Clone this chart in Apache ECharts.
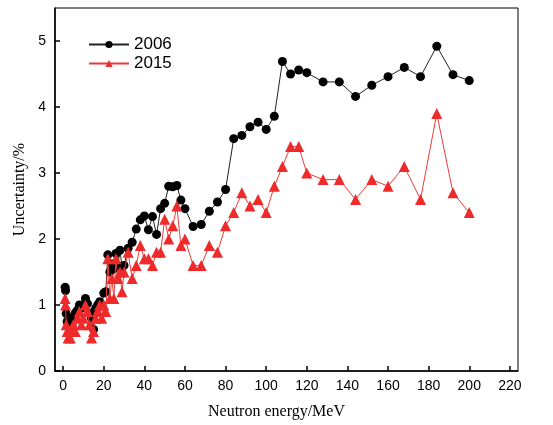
<!DOCTYPE html>
<html>
<head>
<meta charset="utf-8">
<script src="https://cdn.jsdelivr.net/npm/echarts@6/dist/echarts.min.js"></script>
<style>html,body{margin:0;padding:0;background:#fff}#c{width:553px;height:425px}</style>
</head>
<body>
<div id="c"></div>
<script>
const energies = [1,1.2,1.5,2,2.5,3,3.5,4,5,6,7,8,9,10,11,12,13,14,15,16,17,18,19,20,21,22,23,24,25,26,27,28,29,30,
  32,34,36,38,40,42,44,46,48,50,52,54,56,58,60,
  64,68,72,76,80,84,88,92,96,100,104,108,112,116,120,
  128,136,144,152,160,168,176,184,192,200];
const unc2006 = [1.27,1.22,0.87,0.75,0.70,0.68,0.75,0.80,0.78,0.88,0.92,1.00,0.95,1.00,1.10,1.02,0.88,0.80,0.63,0.95,1.00,1.05,1.00,1.18,1.20,1.76,1.50,1.62,1.55,1.78,1.60,1.83,1.58,1.60,
  1.86,1.95,2.15,2.29,2.35,2.14,2.34,2.07,2.46,2.54,2.80,2.79,2.81,2.59,2.46,
  2.19,2.22,2.42,2.56,2.75,3.52,3.57,3.70,3.77,3.66,3.86,4.69,4.50,4.56,4.52,
  4.38,4.38,4.16,4.33,4.46,4.60,4.46,4.92,4.49,4.40];
const unc2015 = [1.10,1.00,0.70,0.60,0.50,0.60,0.50,0.60,0.70,0.60,0.80,0.90,0.70,0.80,1.00,0.90,0.70,0.50,0.60,0.80,0.90,1.00,0.80,1.00,0.90,1.70,1.10,1.40,1.10,1.70,1.40,1.50,1.20,1.50,
  1.80,1.40,1.60,1.90,1.70,1.70,1.60,1.80,1.80,2.30,2.00,2.20,2.50,1.90,2.00,
  1.60,1.60,1.90,1.80,2.20,2.40,2.70,2.50,2.60,2.40,2.80,3.10,3.40,3.40,3.00,
  2.90,2.90,2.60,2.90,2.80,3.10,2.60,3.90,2.70,2.40];
const xTicks = [0,20,40,60,80,100,120,140,160,180,200,220];
const yTicks = [0,1,2,3,4,5];
const seriesNames = ['2006','2015'];

const pairs = (vals) => energies.map((e, i) => [e, vals[i]]);
const chart = echarts.init(document.getElementById('c'), null, {renderer: 'canvas'});
const sans = 'Arial, "Liberation Sans", sans-serif';
const serif = '"Times New Roman", "Liberation Serif", serif';
chart.setOption({
  animation: false,
  backgroundColor: '#fff',
  grid: {left: 55, right: 35, top: 8, bottom: 52, containLabel: false, show: true, borderColor: '#000', borderWidth: 1},
  legend: {
    orient: 'vertical', left: 83, top: 31, itemGap: 2, itemWidth: 40, itemHeight: 9,
    textStyle: {fontFamily: sans, fontSize: 17, color: '#000'},
    data: seriesNames
  },
  xAxis: {
    type: 'value', min: -4, max: 224,
    name: 'Neutron energy/MeV', nameLocation: 'middle', nameGap: 33,
    nameTextStyle: {fontFamily: serif, fontSize: 16, color: '#000', padding: [0, 20, 0, 0]},
    axisLine: {show: true, onZero: false, lineStyle: {color: '#000', width: 1.5}},
    axisTick: {show: true, inside: true, length: 5, customValues: xTicks, lineStyle: {color: '#000', width: 1.5}},
    axisLabel: {customValues: xTicks, fontFamily: sans, fontSize: 14, color: '#000', margin: 8},
    splitLine: {show: false}
  },
  yAxis: {
    type: 'value', min: 0, max: 5.5,
    name: 'Uncertainty/%', nameLocation: 'middle', nameGap: 26,
    nameTextStyle: {fontFamily: serif, fontSize: 16, color: '#000'},
    axisLine: {show: true, onZero: false, lineStyle: {color: '#000', width: 1.5}},
    axisTick: {show: true, inside: true, length: 5, customValues: yTicks, lineStyle: {color: '#000', width: 1.5}},
    axisLabel: {customValues: yTicks, fontFamily: sans, fontSize: 14, color: '#000', margin: 9},
    splitLine: {show: false}
  },
  series: [
    {name: seriesNames[0], type: 'line', data: pairs(unc2006), symbol: 'circle', symbolSize: 9,
     itemStyle: {color: '#000'}, lineStyle: {color: '#222', width: 1}, z: 2},
    {name: seriesNames[1], type: 'line', data: pairs(unc2015), symbol: 'triangle', symbolSize: 11,
     itemStyle: {color: '#ee2a2a'}, lineStyle: {color: '#f03a3a', width: 1}, z: 3}
  ]
});
</script>
</body>
</html>
